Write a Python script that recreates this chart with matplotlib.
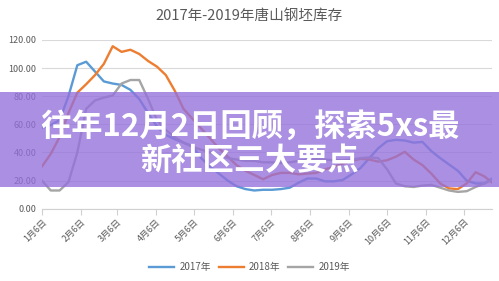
import matplotlib
matplotlib.use("Agg")
import matplotlib.pyplot as plt
import pandas as pd
import numpy as np
from matplotlib.patches import Rectangle

plt.rcParams['font.family'] = ['Noto Sans CJK SC', 'DejaVu Sans']

title = "2017年-2019年唐山钢坯库存"
banner_line1 = "往年12月2日回顾，探索5xs最"
banner_line2 = "新社区三大要点"

series_names = ["2017年", "2018年", "2019年"]
series_colors = ["#5B9BD5", "#ED7D31", "#A5A5A5"]

weeks = pd.date_range("2019-01-06", periods=52, freq="7D")

s2017 = [57.5, 59.5, 63, 80, 102, 104.5, 97.5, 90.5, 89, 88, 84.5, 78, 68, 58.5,
         52.5, 49.5, 47, 44.5, 36, 30, 25, 20, 16, 14, 13, 13.5, 13.5, 14, 15, 18.5,
         21.5, 21.5, 19.5, 19.5, 20.5, 24.5, 29, 36, 43, 48, 49, 48.5, 47, 47.5,
         41, 36, 31.5, 27, 20, 18, 18, 22]
s2018 = [30, 39, 51, 68, 82.5, 88.5, 95, 103, 115.5, 111.5, 113, 110, 105, 101,
         95, 84, 71, 64, 57, 50, 43, 37, 31, 27, 24, 21, 24, 25.5, 25.5, 24.5,
         25, 25.5, 28, 30, 32, 34, 35.5, 35, 33.5, 34.5, 37, 40.5, 35, 31, 25,
         18, 14.5, 14, 18, 26, 23, 18]
s2019 = [20, 13, 13, 19, 40, 71, 77, 79, 80.5, 89, 91.5, 91.5, 78, 63,
         56, 51, 47, 44, 42, 40, 38, 36, 35, 34, 34, 33, 33, 32.5, 33, 34,
         35, 35.5, 35, 34.5, 34.5, 35, 36, 36.5, 36, 28, 18, 16, 15.5, 16.5,
         17, 15, 13, 12, 12.5, 15.5, 18, 21]

tick_dates = pd.date_range("2019-01-06", periods=12, freq=pd.DateOffset(months=1))
tick_labels = ["1月6日", "2月6日", "3月6日", "4月6日", "5月6日", "6月6日",
               "7月6日", "8月6日", "9月6日", "10月6日", "11月6日", "12月6日"]
y_ticks = [0, 20, 40, 60, 80, 100, 120]

fig = plt.figure(figsize=(4.99, 2.81), dpi=100)
ax = fig.add_axes([0.084, 0.257, 0.902, 0.601])

for vals, name, col in zip([s2017, s2018, s2019], series_names, series_colors):
    ax.plot(weeks, vals, color=col, lw=1.7, label=name, solid_joinstyle='round')

ax.set_ylim(0, 120)
ax.set_xlim(weeks[0], pd.Timestamp("2019-12-28"))
ax.set_yticks(y_ticks)
ax.set_yticklabels([f"{v:.2f}" for v in y_ticks], fontsize=6.5, color="#595959")
ax.set_xticks(tick_dates)
ax.set_xticklabels(tick_labels, rotation=45, ha='right', rotation_mode='anchor',
                   fontsize=6.5, color="#595959")
ax.grid(axis='y', color='#d9d9d9', lw=0.8)
ax.set_axisbelow(True)
for s in ['top', 'right', 'left']:
    ax.spines[s].set_visible(False)
ax.spines['bottom'].set_color('#d0d0d0')
ax.tick_params(axis='y', length=0, pad=4)
ax.tick_params(axis='x', length=4, color='#d0d0d0', pad=2)

fig.text(0.5, 0.945, title, ha='center', va='center', fontsize=10.5, color='#595959')

leg = fig.legend(loc='lower center', bbox_to_anchor=(0.5, 0.0), ncol=3, frameon=False,
                 fontsize=7, handlelength=2.6, columnspacing=0.8, handletextpad=0.5)
for t in leg.get_texts():
    t.set_color('#595959')

# banner
fig.patches.append(Rectangle((0, 1 - 187 / 281), 1, 95 / 281, transform=fig.transFigure,
                             facecolor='#9370DB', alpha=0.78, edgecolor='none', zorder=10))
fig.text(0.5, 1 - 127 / 281, banner_line1, ha='center', va='center', fontsize=22.5,
         fontweight='bold', color='white', zorder=11)
fig.text(0.5, 1 - 161 / 281, banner_line2, ha='center', va='center', fontsize=22.5,
         fontweight='bold', color='white', zorder=11)

fig.savefig("out.png", dpi=100)
